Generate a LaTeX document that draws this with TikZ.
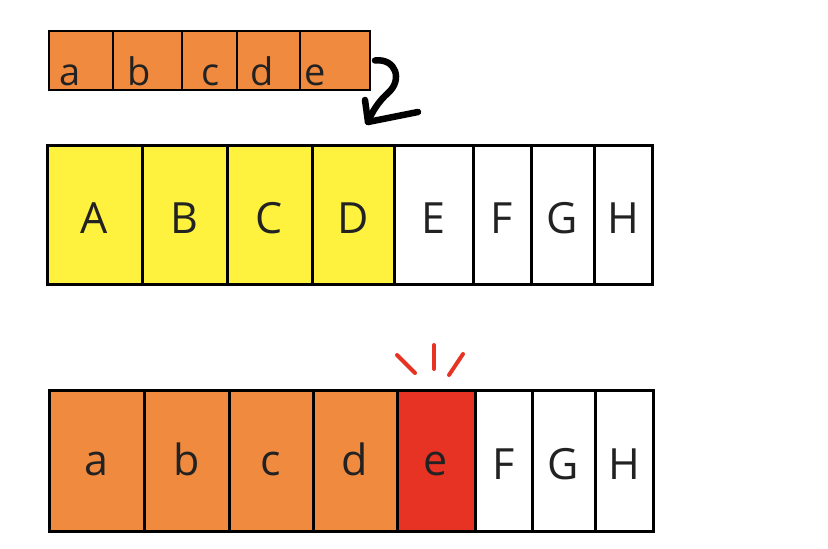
\documentclass[tikz,border=0pt]{standalone}
\usepackage{fontspec}
\setmainfont{Open Sans}
\usetikzlibrary{calc, positioning}

\definecolor{cellyellow}{HTML}{FFF23F}
\definecolor{cellorange}{HTML}{EF8A3F}
\definecolor{cellred}{HTML}{E63323}
\definecolor{inkgray}{HTML}{222222}

\tikzset{
  cell/.style={draw, line width=3pt, inner sep=0pt, outer sep=0pt,
    text=inkgray, font=\fontsize{43}{43}\selectfont, text depth=0pt},
  bigcell/.style={cell, minimum height=139pt, text height=37pt},
  lowcell/.style={cell, minimum height=141pt, text height=28pt},
  smallcell/.style={cell, minimum height=59pt, line width=2.6pt},
  smalllabel/.style={anchor=base, inner sep=0pt, text=inkgray,
    font=\fontsize{38}{38}\selectfont},
  spark/.style={cellred, line width=4pt, line cap=round}
}

\begin{document}
\begin{tikzpicture}[x=1pt, y=-1pt]
\useasboundingbox (0,0) rectangle (828,549);
% Small source row
\node[smallcell, fill=cellorange, minimum width=64pt] (ta) at (81,60.5) {};
\node[smallcell, fill=cellorange, minimum width=69pt] (tb) at (147.5,60.5) {};
\node[smallcell, fill=cellorange, minimum width=55pt] (tc) at (209.5,60.5) {};
\node[smallcell, fill=cellorange, minimum width=63pt] (td) at (268.5,60.5) {};
\node[smallcell, fill=cellorange, minimum width=70pt] (te) at (335,60.5) {};
\node[smalllabel] (la) at (70,85) {a};
\node[smalllabel] (lb) at (139,85) {b};
\node[smalllabel] (lc) at (211,85) {c};
\node[smalllabel] (ld) at (262,85) {d};
\node[smalllabel] (le) at (315,85) {e};
% Middle row
\node[bigcell, fill=cellyellow, minimum width=95pt] (mA) at (94.5,214.5) {A};
\node[bigcell, fill=cellyellow, minimum width=85pt] (mB) at (184.5,214.5) {B};
\node[bigcell, fill=cellyellow, minimum width=85pt] (mC) at (269.5,214.5) {C};
\node[bigcell, fill=cellyellow, minimum width=82pt] (mD) at (353,214.5) {D};
\node[bigcell, fill=white, minimum width=79pt] (mE) at (433.5,214.5) {E};
\node[bigcell, fill=white, minimum width=58pt] (mF) at (502,214.5) {F};
\node[bigcell, fill=white, minimum width=63pt] (mG) at (562.5,214.5) {G};
\node[bigcell, fill=white, minimum width=58pt] (mH) at (623,214.5) {H};
% Bottom row
\node[lowcell, fill=cellorange, minimum width=95pt] (ba) at (96.5,461) {a};
\node[lowcell, fill=cellorange, minimum width=85pt] (bb) at (186.5,461) {b};
\node[lowcell, fill=cellorange, minimum width=84pt] (bc) at (271,461) {c};
\node[lowcell, fill=cellorange, minimum width=84pt] (bd) at (355,461) {d};
\node[lowcell, fill=cellred, minimum width=78pt] (be) at (436,461) {e};
\node[lowcell, fill=white, minimum width=57pt, text height=37pt] (bF) at (503.5,461) {F};
\node[lowcell, fill=white, minimum width=63pt, text height=37pt] (bG) at (563.5,461) {G};
\node[lowcell, fill=white, minimum width=58pt, text height=37pt] (bH) at (624,461) {H};
% Hand drawn arrow from small row down to the middle row
\coordinate (tip) at ($(mD.north east)+(-26,-23)$);
\draw[line width=6.5pt, line cap=round, line join=round]
  ($(te.east)+(5,0)$) .. controls (396,58) and (403,80) .. (388,93)
  .. controls (378,102) and (372,112) .. (tip);
\draw[line width=6.5pt, line cap=round, line join=round]
  ($(tip)+(-3,-22)$) -- (tip) -- ($(tip)+(50,-10)$);
% Red marks above e
\draw[spark] (397,355) -- (415,373);
\draw[spark] (434,345) -- (434,369);
\draw[spark] (463,354) -- (449,375);
\end{tikzpicture}
\end{document}
